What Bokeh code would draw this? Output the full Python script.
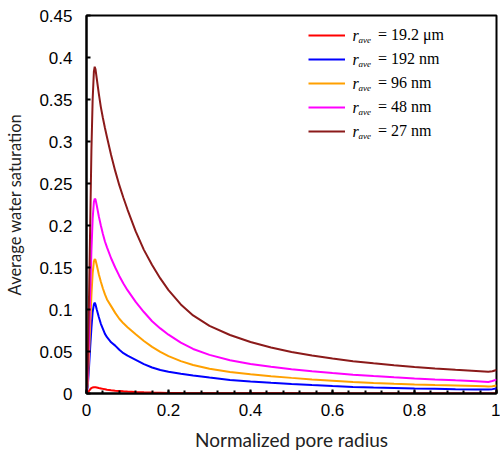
from bokeh.plotting import figure
from bokeh.models import (Range1d, SingleIntervalTicker, CustomJSTickFormatter,
                          Legend, LegendItem, Label)
from bokeh.embed import file_html
from bokeh.resources import INLINE

# ---- data ----
x = [0, 0.003, 0.006, 0.009, 0.012, 0.015, 0.018, 0.02, 0.022, 0.025, 0.03, 0.035,
     0.04, 0.045, 0.05, 0.06, 0.07, 0.08, 0.09, 0.1, 0.12, 0.14, 0.16, 0.18, 0.2,
     0.23, 0.26, 0.3, 0.35, 0.4, 0.45, 0.5, 0.55, 0.6, 0.65, 0.7, 0.75, 0.8, 0.85,
     0.9, 0.95, 0.97, 0.98, 0.99, 1.0]
s_19_2um = [0, 0.001, 0.003, 0.005, 0.0065, 0.0072, 0.0075, 0.0075, 0.0074, 0.0071,
            0.0065, 0.006, 0.0055, 0.005, 0.0045, 0.0039, 0.0034, 0.003, 0.0026,
            0.0023, 0.0018, 0.0014, 0.0011, 0.0009, 0.0007, 0.0005, 0.0004, 0.0003,
            0.0002, 0.0002, 0.0002, 0.0002, 0.0001, 0.0001, 0.0001, 0.0001, 0.0001,
            0.0001, 0.0001, 0.0001, 0.0001, 0.0001, 0.0001, 0.0001, 0.0001]
s_192nm = [0, 0.008, 0.03, 0.055, 0.078, 0.097, 0.106, 0.108, 0.106, 0.100, 0.091,
           0.083, 0.077, 0.071, 0.067, 0.061, 0.057, 0.052, 0.048, 0.045, 0.040,
           0.035, 0.031, 0.028, 0.026, 0.0235, 0.0215, 0.019, 0.0162, 0.0143, 0.0127,
           0.0113, 0.0100, 0.0088, 0.0077, 0.0070, 0.0065, 0.0060, 0.0056, 0.0052,
           0.0049, 0.0048, 0.0047, 0.0052, 0.006]
s_96nm = [0, 0.012, 0.045, 0.082, 0.117, 0.143, 0.157, 0.160, 0.159, 0.153, 0.142,
          0.133, 0.125, 0.118, 0.112, 0.104, 0.096, 0.089, 0.0835, 0.079, 0.0705,
          0.0625, 0.0555, 0.0495, 0.0445, 0.0385, 0.0340, 0.0295, 0.0255, 0.0228,
          0.0206, 0.0186, 0.0168, 0.0152, 0.0136, 0.0125, 0.0116, 0.0108, 0.0101,
          0.0095, 0.0089, 0.0085, 0.0083, 0.0087, 0.0095]
s_48nm = [0, 0.02, 0.065, 0.12, 0.17, 0.208, 0.228, 0.232, 0.231, 0.224, 0.211,
          0.200, 0.190, 0.181, 0.174, 0.161, 0.150, 0.140, 0.131, 0.123, 0.109,
          0.097, 0.086, 0.0775, 0.0700, 0.0605, 0.0530, 0.0460, 0.0395, 0.0350,
          0.0318, 0.0290, 0.0265, 0.0243, 0.0224, 0.0207, 0.0193, 0.0180, 0.0168,
          0.0157, 0.0147, 0.0141, 0.0138, 0.0148, 0.0165]
s_27nm = [0, 0.03, 0.11, 0.20, 0.29, 0.35, 0.383, 0.389, 0.386, 0.375, 0.357,
          0.341, 0.328, 0.316, 0.305, 0.284, 0.265, 0.248, 0.233, 0.219, 0.193,
          0.171, 0.153, 0.137, 0.123, 0.106, 0.093, 0.0806, 0.0696, 0.0613, 0.0548,
          0.0495, 0.0452, 0.0416, 0.0385, 0.0359, 0.0336, 0.0316, 0.0298, 0.0282,
          0.0268, 0.0262, 0.0259, 0.0265, 0.028]

series = [s_19_2um, s_192nm, s_96nm, s_48nm, s_27nm]
values_txt = ["= 19.2 \u03bcm", "= 192 nm", "= 96 nm", "= 48 nm", "= 27 nm"]
colors = ["#FF0000", "#0000FF", "#FFA000", "#FF00FF", "#8B1A1A"]

x_ticks_interval = 0.2
y_ticks_interval = 0.05

p = figure(width=500, height=461, output_backend="svg", toolbar_location=None,
           x_range=Range1d(0, 1), y_range=Range1d(0, 0.45),
           min_border_left=86, min_border_right=4, min_border_top=15,
           min_border_bottom=68)
p.background_fill_color = "white"
p.border_fill_color = "white"
p.grid.visible = False
p.outline_line_color = "black"
p.outline_line_width = 2

fmt = CustomJSTickFormatter(code="return String(Number(tick.toFixed(2)));")

xa = p.xaxis[0]
xa.ticker = SingleIntervalTicker(interval=x_ticks_interval, num_minor_ticks=5)
xa.formatter = fmt
ya = p.yaxis[0]
ya.ticker = SingleIntervalTicker(interval=y_ticks_interval, num_minor_ticks=0)
ya.formatter = fmt

for ax in (xa, ya):
    ax.axis_line_color = "black"
    ax.axis_line_width = 2
    ax.major_tick_in = 4
    ax.major_tick_out = 0
    ax.major_tick_line_width = 2
    ax.minor_tick_in = 3
    ax.minor_tick_out = 0
    ax.minor_tick_line_width = 2
    ax.major_label_text_font = "Liberation Sans"
    ax.major_label_text_font_size = "17px"
    ax.major_label_text_color = "black"
    ax.axis_label_text_font = "Lato"
    ax.axis_label_text_font_style = "normal"
    ax.axis_label_text_color = "#222222"

xa.axis_label = "Normalized pore radius"
ya.axis_label = "Average water saturation"
xa.axis_label_text_font_size = "19px"
ya.axis_label_text_font_size = "16.5px"
xa.major_label_standoff = 10
ya.major_label_standoff = 14
xa.axis_label_standoff = 9
ya.axis_label_standoff = 11

renderers = []
for s, c in zip(series, colors):
    r = p.line(x, s, line_color=c, line_width=2)
    renderers.append(r)

items = [LegendItem(label=t, renderers=[r]) for t, r in zip(values_txt, renderers)]
legend = Legend(items=items, location=(222, 252), orientation="vertical",
                glyph_width=37, glyph_height=20, label_height=20, spacing=4,
                padding=0, margin=0, label_standoff=33,
                label_text_font="Liberation Serif", label_text_font_size="16px",
                label_text_color="black",
                border_line_color=None, background_fill_alpha=0)
p.add_layout(legend, "center")

# r_ave prefixes of the legend entries
for i in range(len(values_txt)):
    y_scr = (393 - 15) - (34.7 + 24 * i - 15)
    p.add_layout(Label(x=352 - 86, y=y_scr, x_units="screen",
                       y_units="screen", text="r", text_font="Liberation Serif",
                       text_font_style="italic", text_font_size="16px",
                       text_color="black",
                       text_baseline="middle", text_align="left"))
    p.add_layout(Label(x=358 - 86, y=y_scr - 5, x_units="screen",
                       y_units="screen", text="ave", text_font="Liberation Serif",
                       text_font_style="italic", text_font_size="9px",
                       text_color="black",
                       text_baseline="middle", text_align="left"))

open("out.html", "w").write(file_html(p, INLINE))
